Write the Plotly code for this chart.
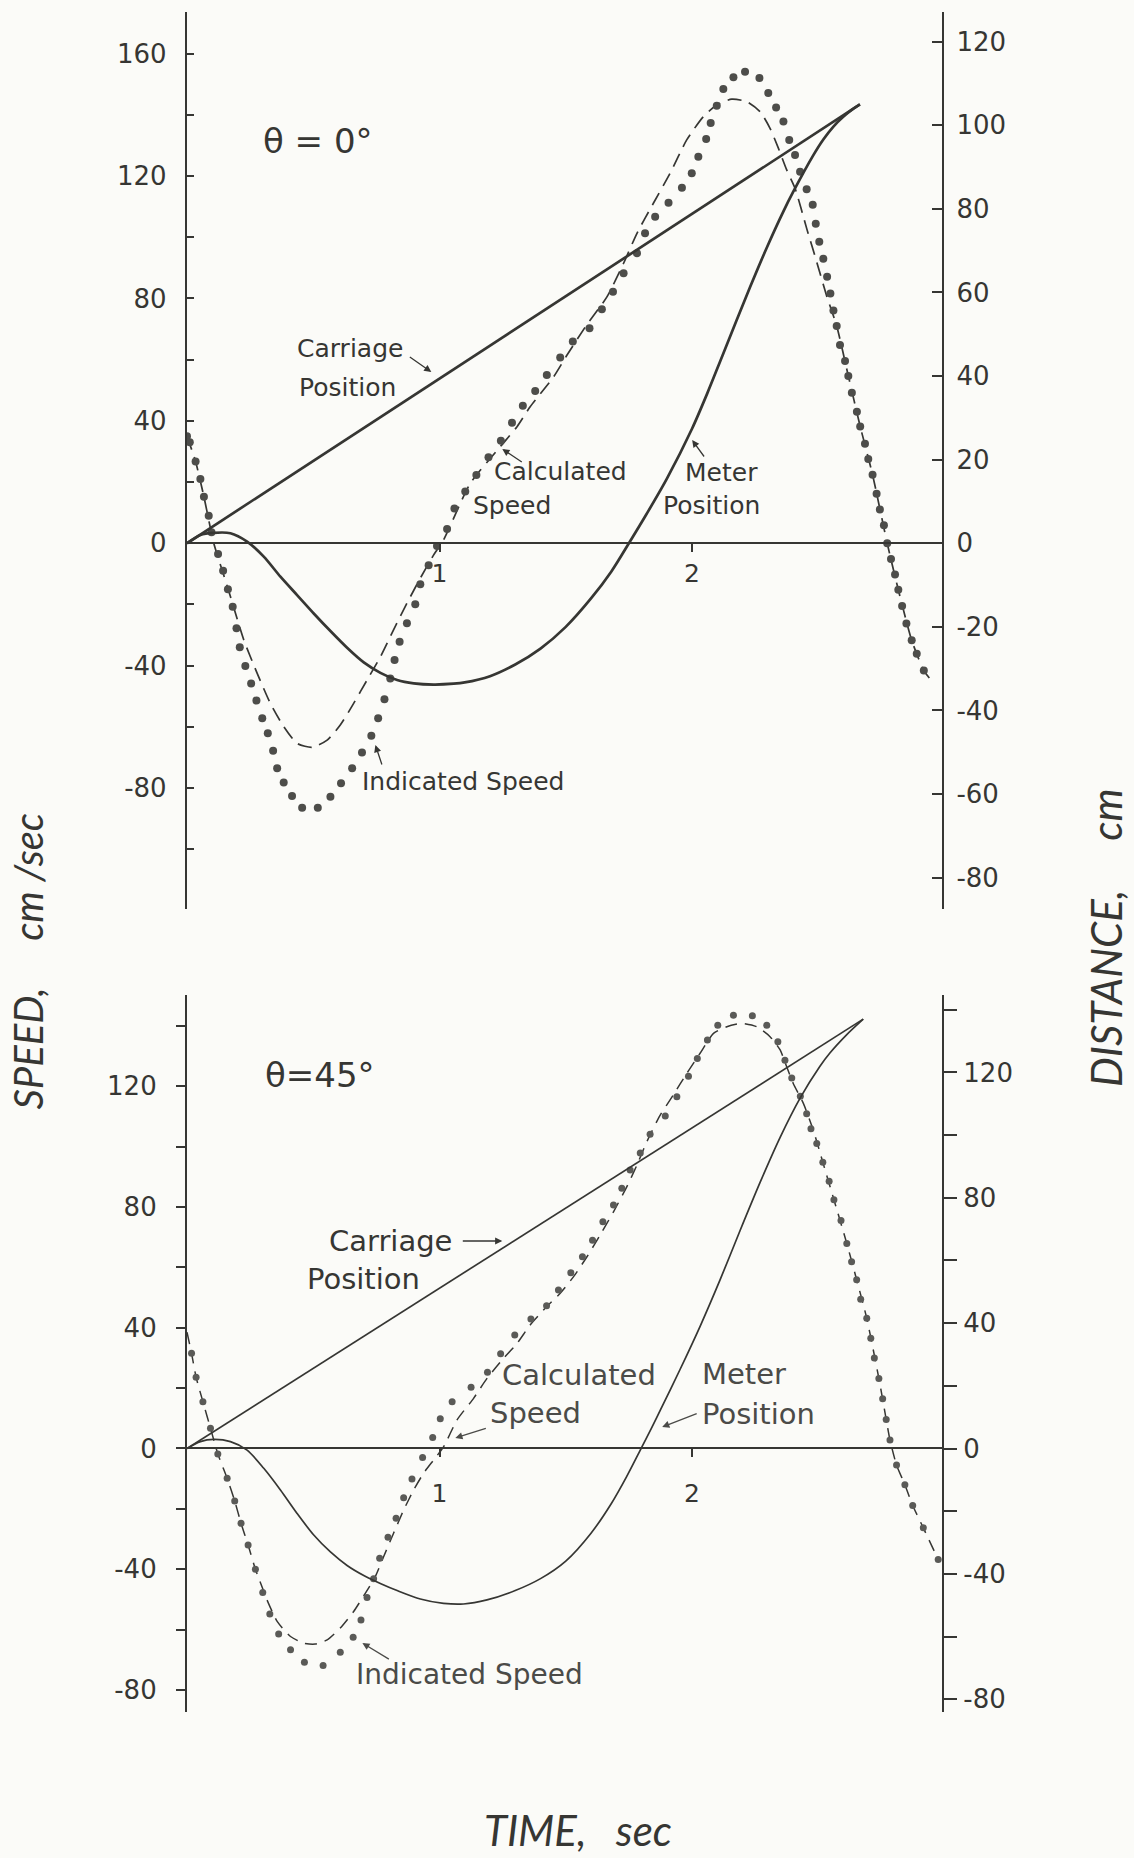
import plotly.graph_objects as go

# ---------------- data ----------------
# theta = 0 deg panel
t_ind_top = [0.000, 0.011, 0.034, 0.053, 0.067, 0.086, 0.097, 0.123, 0.143, 0.162, 0.181, 0.196, 0.209,
             0.231, 0.254, 0.275, 0.298, 0.320, 0.341, 0.357, 0.383, 0.416, 0.456, 0.518, 0.568, 0.610,
             0.654, 0.693, 0.730, 0.757, 0.782, 0.805, 0.822, 0.842, 0.871, 0.904, 0.924, 0.957, 0.990,
             1.030, 1.059, 1.102, 1.146, 1.194, 1.243, 1.287, 1.330, 1.379, 1.425, 1.478, 1.528, 1.594,
             1.643, 1.687, 1.729, 1.782, 1.814, 1.854, 1.907, 1.960, 1.999, 2.025, 2.056, 2.074, 2.098,
             2.124, 2.164, 2.210, 2.267, 2.302, 2.333, 2.362, 2.385, 2.408, 2.428, 2.454, 2.478, 2.490,
             2.504, 2.520, 2.535, 2.548, 2.560, 2.573, 2.586, 2.606, 2.619, 2.633, 2.653, 2.666, 2.685,
             2.698, 2.715, 2.731, 2.744, 2.760, 2.773, 2.788, 2.804, 2.817, 2.832, 2.849, 2.870, 2.890,
             2.918]
v_ind_top = [35.0, 33.0, 26.7, 21.0, 15.2, 9.0, 3.6, -3.5, -9.0, -15.0, -20.7, -27.8, -34.0,
             -40.1, -45.8, -51.4, -57.2, -62.1, -67.8, -73.5, -78.2, -82.6, -86.4, -86.4, -82.8, -78.4,
             -73.5, -68.4, -62.9, -57.2, -51.0, -44.2, -38.1, -32.2, -26.1, -19.9, -13.4, -7.2, -0.9,
             4.7, 11.4, 16.9, 22.3, 28.1, 33.5, 39.4, 44.9, 49.8, 55.0, 60.7, 65.9, 70.3,
             76.5, 82.2, 88.2, 94.8, 101.3, 106.7, 111.3, 116.2, 120.9, 126.3, 132.1, 137.3, 143.0,
             148.4, 152.3, 154.1, 152.0, 147.1, 142.4, 137.8, 131.8, 126.9, 121.4, 115.7, 110.6, 104.4,
             98.5, 93.0, 87.1, 81.6, 76.1, 71.0, 64.8, 59.6, 54.7, 49.2, 43.0, 38.2, 32.5,
             27.5, 22.4, 16.2, 11.0, 5.9, 0.0, -5.1, -10.2, -15.2, -20.5, -26.2, -31.7, -36.1,
             -41.6]

t_calc_top = [0.000, 0.034, 0.067, 0.106, 0.140, 0.172, 0.225, 0.278, 0.330, 0.383, 0.436, 0.495, 0.555,
              0.607, 0.660, 0.713, 0.766, 0.818, 0.871, 0.924, 0.977, 1.016, 1.122, 1.241, 1.307, 1.359,
              1.452, 1.505, 1.584, 1.663, 1.729, 1.782, 1.847, 1.913, 1.979, 2.045, 2.098, 2.157, 2.217,
              2.270, 2.309, 2.342, 2.375, 2.408, 2.454, 2.494, 2.533, 2.573, 2.619, 2.666, 2.715, 2.773,
              2.817, 2.870, 2.918, 2.950]
v_calc_top = [35.0, 26.7, 15.2, 0.0, -9.0, -17.4, -31.6, -42.5, -52.3, -59.9, -65.4, -66.7, -64.3,
              -59.4, -52.3, -44.7, -37.1, -28.3, -19.6, -11.4, -3.8, 1.1, 19.6, 31.6, 38.1, 44.6,
              54.4, 61.5, 71.5, 80.5, 91.5, 101.3, 111.1, 120.9, 131.8, 139.4, 143.2, 145.1, 144.3,
              141.0, 135.6, 129.1, 122.0, 116.0, 102.9, 91.9, 80.9, 71.0, 54.7, 38.2, 22.4, 0.0,
              -15.2, -31.7, -41.6, -45.0]

t_carr_top = [0.0, 2.665]
d_carr_top = [0.0, 105.0]

t_met_top = [0.000, 0.053, 0.106, 0.172, 0.238, 0.304, 0.370, 0.436, 0.502, 0.568, 0.634, 0.700, 0.766,
             0.832, 0.898, 0.977, 1.056, 1.100, 1.200, 1.300, 1.400, 1.500, 1.600, 1.680, 1.750, 1.820,
             1.900, 2.000, 2.060, 2.120, 2.230, 2.296, 2.362, 2.401, 2.480, 2.520, 2.560, 2.600, 2.635,
             2.665]
d_met_top = [0.0, 2.0, 2.5, 2.4, 0.4, -3.2, -8.0, -12.4, -16.8, -21.0, -25.0, -28.5, -31.0,
             -32.7, -33.5, -33.8, -33.6, -33.3, -31.8, -29.0, -25.2, -20.0, -13.2, -6.8, 0.0, 7.0,
             15.4, 27.4, 35.8, 44.8, 61.3, 70.7, 79.4, 84.1, 92.8, 96.6, 99.7, 102.1, 103.8,
             105.0]

# theta = 45 deg panel
t_ind_bot = [0.018, 0.036, 0.063, 0.093, 0.122, 0.159, 0.189, 0.214, 0.242, 0.271, 0.300, 0.328, 0.363,
             0.410, 0.465, 0.539, 0.607, 0.658, 0.689, 0.713, 0.739, 0.763, 0.796, 0.828, 0.858, 0.891,
             0.933, 0.973, 1.003, 1.050, 1.125, 1.190, 1.242, 1.298, 1.362, 1.424, 1.471, 1.520, 1.566,
             1.606, 1.647, 1.689, 1.722, 1.755, 1.795, 1.834, 1.894, 1.940, 1.986, 2.021, 2.061, 2.102,
             2.164, 2.239, 2.296, 2.340, 2.368, 2.395, 2.429, 2.454, 2.471, 2.494, 2.518, 2.543, 2.562,
             2.590, 2.613, 2.632, 2.652, 2.668, 2.692, 2.708, 2.722, 2.740, 2.755, 2.769, 2.784, 2.810,
             2.843, 2.874, 2.916, 2.975]
v_ind_bot = [31.5, 23.6, 15.5, 6.7, -1.8, -9.9, -17.4, -24.8, -32.0, -40.0, -47.7, -54.8, -61.5,
             -66.7, -70.8, -71.9, -67.5, -62.5, -56.8, -49.4, -43.2, -36.4, -29.4, -23.1, -16.3, -10.1,
             -3.0, 3.6, 9.8, 15.5, 20.3, 25.2, 31.4, 37.6, 42.9, 47.3, 52.5, 58.2, 63.5,
             69.0, 75.1, 80.6, 86.2, 92.2, 97.9, 104.1, 110.1, 116.5, 123.3, 129.2, 135.3, 140.2,
             143.5, 143.3, 140.2, 134.7, 128.6, 122.7, 116.7, 110.9, 105.9, 101.0, 94.8, 88.5, 82.4,
             75.5, 67.9, 61.8, 55.9, 49.4, 43.1, 36.5, 30.0, 23.2, 16.5, 9.6, 2.8, -5.5,
             -12.0, -18.9, -26.3, -36.8]

t_calc_bot = [0.000, 0.018, 0.036, 0.063, 0.093, 0.122, 0.159, 0.189, 0.214, 0.242, 0.271, 0.300, 0.317,
              0.357, 0.410, 0.462, 0.508, 0.555, 0.607, 0.660, 0.706, 0.746, 0.779, 0.818, 0.858, 0.898,
              0.937, 0.977, 1.016, 1.069, 1.135, 1.188, 1.254, 1.307, 1.359, 1.425, 1.478, 1.531, 1.584,
              1.636, 1.689, 1.742, 1.782, 1.821, 1.874, 1.926, 1.979, 2.032, 2.085, 2.138, 2.197, 2.256,
              2.309, 2.349, 2.375, 2.401, 2.441, 2.480, 2.518, 2.562, 2.613, 2.652, 2.692, 2.740, 2.769,
              2.784, 2.810, 2.843, 2.874, 2.916, 2.975]
v_calc_bot = [38.5, 31.5, 23.6, 15.5, 6.7, -1.8, -9.9, -17.4, -24.8, -32.0, -40.0, -46.5, -50.2,
              -57.3, -62.3, -64.5, -64.8, -63.4, -59.5, -54.0, -48.0, -42.4, -35.8, -28.1, -20.4, -13.7,
              -8.2, -3.8, 0.5, 9.4, 16.6, 23.2, 29.9, 34.8, 40.9, 47.0, 51.4, 56.9, 63.5,
              70.7, 78.4, 86.7, 93.9, 101.6, 110.4, 117.1, 124.2, 130.9, 137.5, 139.7, 140.8, 139.7,
              136.4, 132.0, 126.4, 120.9, 114.3, 105.5, 94.8, 82.4, 67.9, 55.9, 43.1, 23.2, 9.6,
              2.8, -5.5, -12.0, -18.9, -26.3, -36.8]

t_carr_bot = [0.0, 2.678]
d_carr_bot = [0.0, 137.0]

t_met_bot = [0.000, 0.053, 0.106, 0.172, 0.238, 0.304, 0.370, 0.436, 0.502, 0.568, 0.634, 0.700, 0.770,
             0.832, 0.924, 1.016, 1.095, 1.188, 1.300, 1.400, 1.500, 1.600, 1.680, 1.740, 1.800,
             1.840, 1.874, 1.953, 2.032, 2.111, 2.190, 2.270, 2.349, 2.428, 2.506, 2.546, 2.612, 2.678]
d_met_bot = [0.0, 2.2, 2.9, 2.2, -0.5, -6.3, -13.2, -20.7, -27.6, -33.0, -37.3, -40.5, -43.2,
             -45.3, -48.0, -49.4, -49.6, -48.3, -45.3, -41.5, -35.9, -27.0, -17.6, -9.1, 0.3,
             6.6, 12.2, 25.3, 39.0, 53.8, 69.5, 85.0, 99.3, 111.8, 121.9, 126.2, 132.0, 137.0]

# tick values / labels
speed_ticks_top = list(range(-100, 161, 20))
speed_labels_top = [str(v) if v % 40 == 0 else "" for v in speed_ticks_top]
dist_ticks_top = list(range(-80, 121, 20))
dist_labels_top = [str(v) for v in dist_ticks_top]
speed_ticks_bot = list(range(-80, 141, 20))
speed_labels_bot = [str(v) if v % 40 == 0 else "" for v in speed_ticks_bot]
dist_ticks_bot = list(range(-80, 141, 20))
dist_labels_bot = [str(v) if v % 40 == 0 else "" for v in dist_ticks_bot]
time_ticks = [1, 2]
time_labels = ["1", "2"]

# ---------------- layout constants ----------------
W, H = 1134, 1858
ML, MR, MT, MB = 186.5, 192, 12, 146
PW = W - ML - MR
PH = H - MT - MB
BOTTOM_PX = H - MB

FONT = "DejaVu Sans"
TFONT = "Lato"
INK = "#363633"
INK2 = "#4b4b48"
BG = "#fbfbf8"

X_RANGE = [0, 2.99]
TOP_DOM = [(BOTTOM_PX - 909) / PH, 1.0]
BOT_DOM = [0.0, (BOTTOM_PX - 995) / PH]
Y_TOP = [-119.5, 173.6]
Y3_TOP = [-87.5, 127.1]
Y_BOT = [-87.3, 150.2]
Y4_BOT = [-84.05, 144.7]


def zero_pos(dom, rng):
    return dom[0] + (0 - rng[0]) / (rng[1] - rng[0]) * (dom[1] - dom[0])


def px(X, Y):
    return (X - ML) / PW, (BOTTOM_PX - Y) / PH


def label(text, X, Y, size=25, color=INK, anchor="left", angle=0, family=FONT):
    x, y = px(X, Y)
    return dict(text=text, x=x, y=y, xref="paper", yref="paper", xanchor=anchor,
                yanchor="middle", showarrow=False, textangle=angle, borderpad=0,
                font=dict(family=family, size=size, color=color))


def arrow(X0, Y0, X1, Y1, color=INK):
    x, y = px(X1, Y1)
    return dict(text="", x=x, y=y, xref="paper", yref="paper", ax=X0 - X1, ay=Y0 - Y1,
                axref="pixel", ayref="pixel", showarrow=True, arrowhead=2, arrowsize=1.1,
                arrowwidth=1.3, arrowcolor=color, standoff=0, startstandoff=0)


fig = go.Figure()

# top panel
fig.add_trace(go.Scatter(x=t_carr_top, y=d_carr_top, xaxis="x", yaxis="y3", mode="lines",
                         line=dict(color=INK, width=2.7)))
fig.add_trace(go.Scatter(x=t_met_top, y=d_met_top, xaxis="x", yaxis="y3", mode="lines",
                         line=dict(color=INK, width=2.7, shape="spline", smoothing=0.8)))
fig.add_trace(go.Scatter(x=t_calc_top, y=v_calc_top, xaxis="x", yaxis="y", mode="lines",
                         line=dict(color=INK, width=1.7, dash="14px,8px", shape="spline", smoothing=0.6)))
fig.add_trace(go.Scatter(x=t_ind_top, y=v_ind_top, xaxis="x", yaxis="y", mode="markers",
                         marker=dict(color="#4d4d4a", size=8, line=dict(width=0))))

# bottom panel
fig.add_trace(go.Scatter(x=t_carr_bot, y=d_carr_bot, xaxis="x2", yaxis="y4", mode="lines",
                         line=dict(color=INK, width=1.7)))
fig.add_trace(go.Scatter(x=t_met_bot, y=d_met_bot, xaxis="x2", yaxis="y4", mode="lines",
                         line=dict(color=INK, width=1.7, shape="spline", smoothing=0.8)))
fig.add_trace(go.Scatter(x=t_calc_bot, y=v_calc_bot, xaxis="x2", yaxis="y2", mode="lines",
                         line=dict(color=INK, width=1.5, dash="12px,8px", shape="spline", smoothing=0.6)))
fig.add_trace(go.Scatter(x=t_ind_bot, y=v_ind_bot, xaxis="x2", yaxis="y2", mode="markers",
                         marker=dict(color="#5a5a57", size=7, line=dict(width=0))))

common_x = dict(range=X_RANGE, domain=[0, 1], showgrid=False, zeroline=False, showline=True,
                linecolor=INK, linewidth=2, tickvals=time_ticks, ticktext=time_labels,
                ticks="outside", ticklen=8, tickwidth=2, tickcolor=INK,
                tickfont=dict(family=FONT, size=25, color=INK))
common_y = dict(showgrid=False, zeroline=False, showline=True, linecolor=INK, tickcolor=INK,
                tickwidth=2, tickfont=dict(family=FONT, size=26, color=INK))

fig.update_layout(
    width=W, height=H, showlegend=False,
    margin=dict(l=ML, r=MR, t=MT, b=MB, pad=0),
    paper_bgcolor=BG, plot_bgcolor=BG,
    xaxis=dict(common_x, anchor="free", position=zero_pos(TOP_DOM, Y_TOP), ticklabelstandoff=0),
    xaxis2=dict(common_x, anchor="free", position=zero_pos(BOT_DOM, Y_BOT), ticklabelstandoff=15,
                linewidth=1.8),
    yaxis=dict(common_y, domain=TOP_DOM, range=Y_TOP, anchor="x", tickvals=speed_ticks_top,
               ticktext=speed_labels_top, ticks="inside", ticklen=7, linewidth=2.4,
               ticklabelstandoff=13),
    yaxis3=dict(common_y, overlaying="y", side="right", anchor="x", range=Y3_TOP,
                tickvals=dist_ticks_top, ticktext=dist_labels_top, ticks="inside", ticklen=10,
                linewidth=2.4, ticklabelstandoff=7),
    yaxis2=dict(common_y, domain=BOT_DOM, range=Y_BOT, anchor="x2", tickvals=speed_ticks_bot,
                ticktext=speed_labels_bot, ticks="outside", ticklen=9, linewidth=2.2,
                ticklabelstandoff=14),
    yaxis4=dict(common_y, overlaying="y2", side="right", anchor="x2", range=Y4_BOT,
                tickvals=dist_ticks_bot, ticktext=dist_labels_bot, ticks="outside", ticklen=13,
                linewidth=2.2, ticklabelstandoff=1),
)

ann = [
    # top panel labels
    label("θ = 0°", 262, 141, size=34),
    label("Carriage", 296, 348), label("Position", 298, 387),
    arrow(408, 356, 431, 372),
    label("Calculated", 493, 471), label("Speed", 472, 505),
    arrow(523, 463, 502, 449),
    label("Meter", 684, 472), label("Position", 662, 505),
    arrow(705, 458, 692, 440),
    label("Indicated Speed", 361, 781),
    arrow(382, 766, 375, 745),
    # bottom panel labels
    label("θ=45°", 264, 1075, size=34),
    label("Carriage", 328, 1241, size=29), label("Position", 306, 1279, size=29),
    arrow(461, 1241, 502, 1241),
    label("Calculated", 501, 1375, size=29, color=INK2), label("Speed", 489, 1413, size=29, color=INK2),
    arrow(487, 1428, 455, 1438, color=INK2),
    label("Meter", 701, 1374, size=29, color=INK2), label("Position", 701, 1414, size=29, color=INK2),
    arrow(698, 1413, 662, 1427, color=INK2),
    label("Indicated Speed", 355, 1674, size=28, color=INK2),
    arrow(390, 1660, 362, 1643, color=INK2),
    # axis titles
    label("<i>SPEED,\u00a0\u00a0\u00a0\u00a0 cm\u00a0/sec</i>", 27, 962, size=40, anchor="center",
          angle=-90, family=TFONT),
    label("<i>DISTANCE,\u00a0\u00a0\u00a0\u00a0 cm</i>", 1106, 938, size=42, anchor="center",
          angle=-90, family=TFONT),
    label("<i>TIME,\u00a0\u00a0 sec</i>", 578, 1830, size=42, anchor="center", family=TFONT),
]
fig.update_layout(annotations=ann)

fig.write_html(
    "out.html",
    config={"displayModeBar": False},
    post_script="document.body.style.margin='0px';document.body.style.overflow='hidden';",
)
